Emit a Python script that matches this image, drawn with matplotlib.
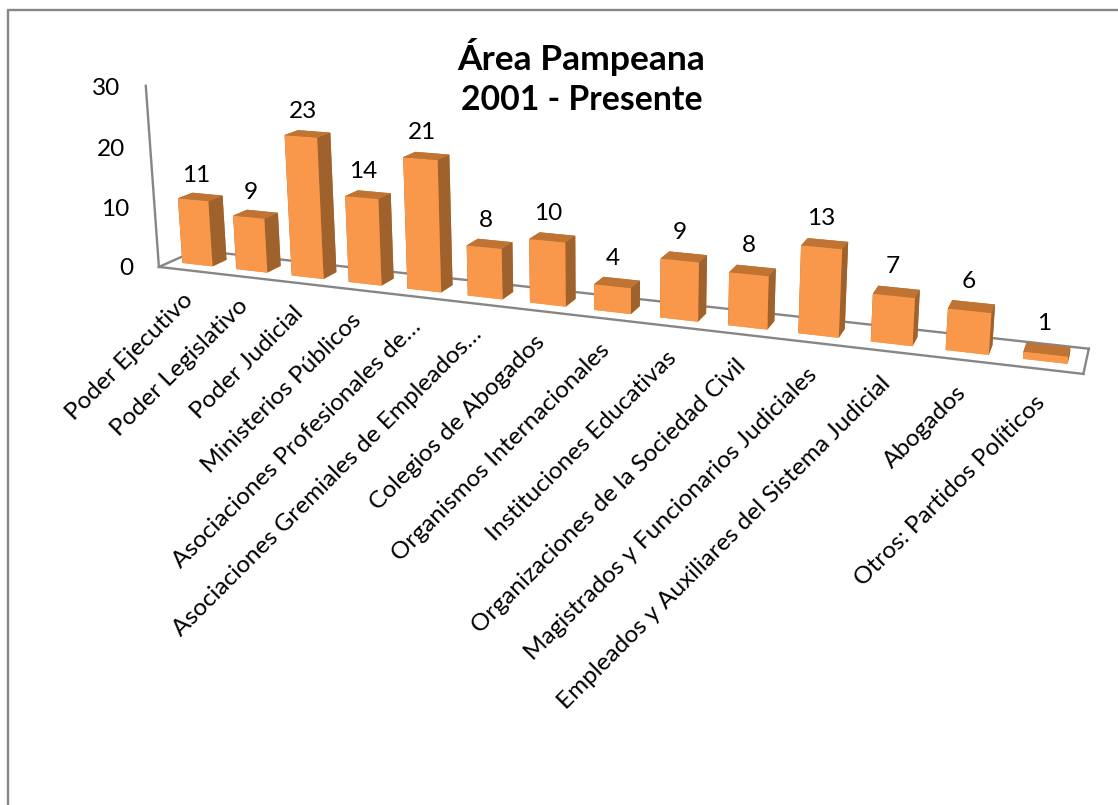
import matplotlib
matplotlib.use('Agg')
import matplotlib.pyplot as plt
from matplotlib.lines import Line2D
from mpl_toolkits.mplot3d import proj3d

categories = ['Poder Ejecutivo', 'Poder Legislativo', 'Poder Judicial', 'Ministerios Públicos',
              'Asociaciones Profesionales de…', 'Asociaciones Gremiales de Empleados…',
              'Colegios de Abogados', 'Organismos Internacionales', 'Instituciones Educativas',
              'Organizaciones de la Sociedad Civil', 'Magistrados y Funcionarios Judiciales',
              'Empleados y Auxiliares del Sistema Judicial', 'Abogados', 'Otros: Partidos Políticos']
values = [11, 9, 23, 14, 21, 8, 10, 4, 9, 8, 13, 7, 6, 1]
yticks = [0, 10, 20, 30]
title_lines = ['Área Pampeana', '2001 - Presente']

W, H = 1118, 805
plt.rcParams['font.family'] = ['Lato', 'DejaVu Sans']

fig = plt.figure(figsize=(W/100, H/100), dpi=100)
ax = fig.add_subplot(projection='3d', computed_zorder=False)
ax.set_xlim(0, 14)
ax.set_ylim(0, 1)
ax.set_zlim(0, 30)

# camera fitted against the reference
ax.view_init(elev=14.2959, azim=-69.1512, roll=0.1942)
ax.set_proj_type('persp', focal_length=0.3028)
ax.set_box_aspect((1, 0.0736, 0.2068))
size = 969.8968
cx, cy = 571.2712, 221.2143
ax.set_position([(cx-size/2)/W, (H-cy-size/2)/H, size/W, size/H])
ax.set_axis_off()

gap = 0.2188
depth = 0.3079
grid = '#868686'
fs = 17.6
M = ax.get_proj()


def label3d(x, y, z, s, **kw):
    # Text3D drops rotation, so all labels go in as 2D text at the projected point
    px, py, _ = proj3d.proj_transform(x, y, z, M)
    ax.text2D(px, py, s, transform=ax.transData, fontsize=fs, zorder=30, **kw)


# floor and value axis
for xs, ys, zs in [([0, 14], [1, 1], [0, 0]), ([0, 0], [0, 1], [0, 0]), ([14, 14], [0, 1], [0, 0]),
                   ([0, 14], [0, 0], [0, 0]), ([0, 0], [0, 0], [0, 30])]:
    ax.plot(xs, ys, zs, color=grid, lw=1.7, clip_on=False, zorder=1)

# faces: bottom, top, front, back, left, right
faces = ['#F79646', '#BF7434', '#F9974A', '#BF7434', '#A0622C', '#A0622C']
for i, v in enumerate(values):
    bar = ax.bar3d(i+gap, depth, 0, 1-2*gap, 1-2*depth, v, color=faces, shade=False,
                   linewidth=0.3, edgecolor=None, zorder=2+i)
    bar.set_clip_on(False)
    label3d(i+0.44, 0.5, v+3.6, str(v), ha='center', va='center')
    label3d(i+0.41, 0, -3.3, categories[i], rotation=45, ha='right', va='top', rotation_mode='anchor')

for t in yticks:
    label3d(-0.48, 0, t-0.7, str(t), ha='right', va='center')

fig.text(581/W, 1-57/H, title_lines[0], fontsize=25.5, fontweight='bold', ha='center', va='center')
fig.text(582/W, 1-100/H, title_lines[1], fontsize=24.3, fontweight='bold', ha='center', va='center')

# chart frame, cut off by the picture on the right and at the bottom
fig.add_artist(Line2D([8/W, 8/W, 1], [0, 1-10/H, 1-10/H], color=grid, lw=1.7))

fig.savefig('out.png', dpi=100)
